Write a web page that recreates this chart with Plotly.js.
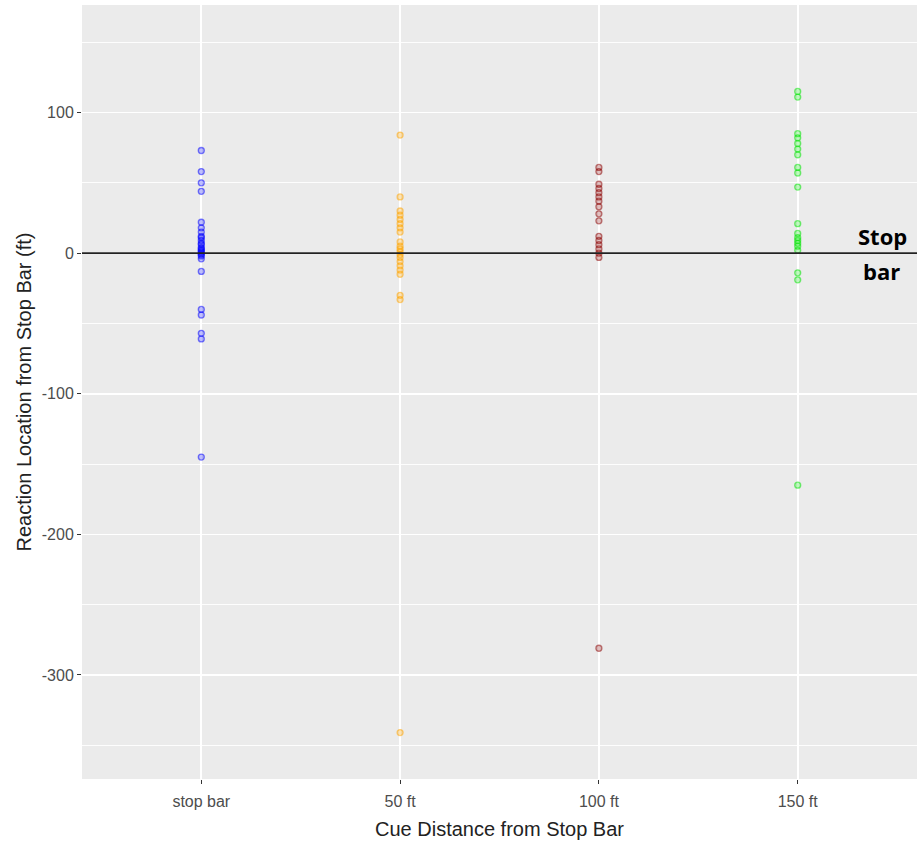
<!DOCTYPE html>
<html>
<head>
<meta charset="utf-8">
<script src="https://cdn.plot.ly/plotly-3.0.1.min.js"></script>
<style>html,body{margin:0;padding:0;background:#fff;}#chart{width:919px;height:843px;}</style>
</head>
<body>
<div id="chart"></div>
<script>
const categories = ["stop bar", "50 ft", "100 ft", "150 ft"];
const colors = ["rgba(0,0,255,0.5)", "rgba(255,165,0,0.5)", "rgba(139,0,0,0.5)", "rgba(0,230,0,0.5)"];
const fills = ["rgba(0,0,255,0.25)", "rgba(255,165,0,0.3)", "rgba(139,0,0,0.25)", "rgba(0,230,0,0.25)"];

const stopBarValues = [73, 58, 50, 44, 22, 18, 15, 12, 11, 9, 7, 6, 4, 3, 2, 1, 0, -1, -2, -4, -13, -40, -44, -57, -61, -145];
const ft50Values = [84, 40, 30, 27, 24, 21, 18, 15, 8, 5, 3, 1, -1, -3, -6, -9, -12, -15, -30, -33, -341];
const ft100Values = [61, 58, 49, 46, 43, 40, 37, 33, 28, 23, 12, 9, 6, 3, 0, -3, -281];
const ft150Values = [115, 111, 85, 82, 78, 74, 70, 61, 57, 47, 21, 14, 11, 9, 7, 5, 2, -14, -19, -165];

const seriesValues = [stopBarValues, ft50Values, ft100Values, ft150Values];
const yTickVals = [-300, -200, -100, 0, 100];
const yTickText = ["-300", "-200", "-100", "0", "100"];

const traces = seriesValues.map((vals, i) => ({
  type: "scatter",
  mode: "markers",
  x: vals.map(() => categories[i]),
  y: vals,
  marker: {
    symbol: "circle",
    size: 6,
    color: fills[i],
    line: {color: colors[i], width: 1.3}
  },
  showlegend: false,
  hoverinfo: "x+y"
}));

const layout = {
  width: 919, height: 843,
  margin: {l: 82, r: 2, t: 5, b: 64},
  paper_bgcolor: "#ffffff",
  plot_bgcolor: "#EBEBEB",
  font: {family: "Liberation Sans, Arial, sans-serif"},
  xaxis: {
    type: "category",
    categoryorder: "array",
    categoryarray: categories,
    range: [-0.6, 3.6],
    showgrid: true, gridcolor: "#ffffff", gridwidth: 1.6,
    zeroline: false, showline: false,
    ticks: "outside", ticklen: 4, tickcolor: "#333333", tickwidth: 1,
    ticklabelstandoff: 4,
    tickfont: {size: 16, color: "#4D4D4D"},
    title: {text: "Cue Distance from Stop Bar", font: {size: 20, color: "#222222"}, standoff: 12}
  },
  yaxis: {
    range: [-374, 176.5],
    tickvals: yTickVals, ticktext: yTickText,
    showgrid: true, gridcolor: "#ffffff", gridwidth: 1.6,
    minor: {tickvals: [-350, -250, -150, -50, 50, 150], showgrid: true, gridcolor: "#ffffff", gridwidth: 0.9, ticks: ""},
    zeroline: false, showline: false,
    ticks: "outside", ticklen: 4, tickcolor: "#333333", tickwidth: 1,
    tickfont: {size: 16, color: "#4D4D4D"},
    title: {text: "Reaction Location from Stop Bar (ft)", font: {size: 20, color: "#222222"}, standoff: 4}
  },
  shapes: [{
    type: "line", xref: "paper", x0: 0, x1: 1, yref: "y", y0: 0, y1: 0,
    line: {color: "#222222", width: 1.6}, layer: "above"
  }],
  annotations: [
    {text: "<b>Stop</b>", xref: "paper", x: 0.959, xanchor: "center", yref: "y", y: 12, showarrow: false, font: {size: 22, color: "#000000", family: "Open Sans, Liberation Sans, sans-serif"}},
    {text: "<b>bar</b>", xref: "paper", x: 0.958, xanchor: "center", yref: "y", y: -13, showarrow: false, font: {size: 22, color: "#000000", family: "Open Sans, Liberation Sans, sans-serif"}}
  ]
};

Plotly.newPlot("chart", traces, layout, {displayModeBar: false, staticPlot: true});
</script>
</body>
</html>
